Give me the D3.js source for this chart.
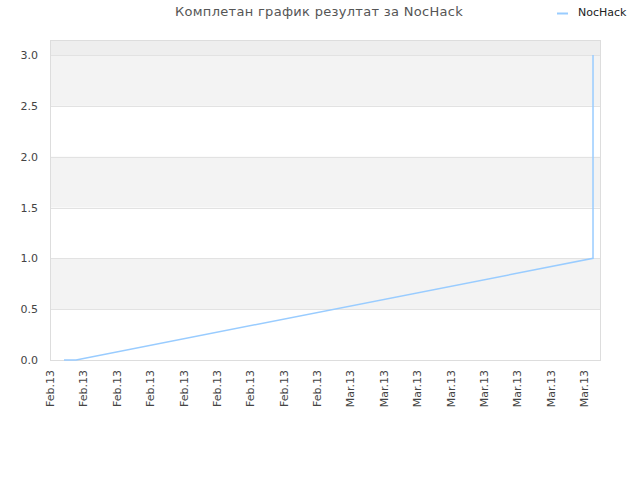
<!DOCTYPE html>
<html>
<head>
<meta charset="utf-8">
<script src="https://cdn.jsdelivr.net/npm/d3@7"></script>
<style>
  body { margin: 0; background: #fff; }
  text { font-family: "DejaVu Sans", sans-serif; }
</style>
</head>
<body>
<div id="chart"></div>
<script>
// x positions are in tick units (0 = first label)
const tickLabels = ['Feb.13', 'Feb.13', 'Feb.13', 'Feb.13', 'Feb.13', 'Feb.13', 'Feb.13', 'Feb.13', 'Feb.13',
  'Mar.13', 'Mar.13', 'Mar.13', 'Mar.13', 'Mar.13', 'Mar.13', 'Mar.13', 'Mar.13'];
const seriesX = [0.42, 0.78, 16.27, 16.27];
const seriesY = [0, 0, 1.0, 3.0];
const yTicks = [0, 0.5, 1, 1.5, 2, 2.5, 3];
const seriesName = 'NocHack';
const title = 'Комплетан график резултат за NocHack';

const w = 640;
const h = 480;
const plotLeft = 50, plotRight = 600, plotTop = 40, plotBottom = 360;

const svg = d3.select('#chart')
  .append('svg')
  .attr('width', w)
  .attr('height', h);

const x = d3.scaleLinear()
  .domain([0, 16])
  .range([plotLeft, 584]);

const y = d3.scaleLinear()
  .domain([0, 3])
  .range([plotBottom, 55]);

// alternating bands
svg.append('rect')
  .attr('x', plotLeft).attr('y', plotTop)
  .attr('width', plotRight - plotLeft).attr('height', y(3) - plotTop)
  .attr('fill', '#eeeeee');

[[0.5, 1], [1.5, 2], [2.5, 3]].forEach(b => {
  svg.append('rect')
    .attr('x', plotLeft).attr('y', y(b[1]))
    .attr('width', plotRight - plotLeft).attr('height', y(b[0]) - y(b[1]))
    .attr('fill', '#f3f3f3');
});

// grid lines
svg.selectAll('.grid')
  .data(yTicks)
  .enter()
  .append('line')
  .attr('x1', plotLeft).attr('x2', plotRight)
  .attr('y1', d => Math.round(y(d)) + 0.5).attr('y2', d => Math.round(y(d)) + 0.5)
  .attr('stroke', '#e2e2e2');

// frame
svg.append('rect')
  .attr('x', plotLeft + 0.5).attr('y', plotTop + 0.5)
  .attr('width', plotRight - plotLeft).attr('height', plotBottom - plotTop)
  .attr('fill', 'none')
  .attr('stroke', '#dddddd');

// y labels
svg.selectAll('.ylab')
  .data(yTicks)
  .enter()
  .append('text')
  .text(d => d.toFixed(1))
  .attr('x', 38)
  .attr('y', d => y(d) + 4)
  .attr('text-anchor', 'end')
  .attr('font-size', '11px')
  .attr('fill', '#444');

// x labels, rotated
svg.selectAll('.xlab')
  .data(tickLabels)
  .enter()
  .append('text')
  .text(d => d)
  .attr('text-anchor', 'end')
  .attr('font-size', '11px')
  .attr('fill', '#444')
  .attr('transform', (d, i) => `translate(${x(i) + 4},370) rotate(-90)`);

// series line
const pts = seriesX.map((v, i) => [v, seriesY[i]]);
svg.append('path')
  .datum(pts)
  .attr('fill', 'none')
  .attr('stroke', '#99ccff')
  .attr('stroke-width', 1.5)
  .attr('d', d3.line().x(d => x(d[0])).y(d => y(d[1])));

// title
svg.append('text')
  .text(title)
  .attr('x', 319)
  .attr('y', 16)
  .attr('text-anchor', 'middle')
  .attr('font-size', '13px')
  .attr('letter-spacing', '0.3px')
  .attr('fill', '#555');

// legend
svg.append('line')
  .attr('x1', 557).attr('x2', 568)
  .attr('y1', 13.5).attr('y2', 13.5)
  .attr('stroke', '#99ccff')
  .attr('stroke-width', 2);

svg.append('text')
  .text(seriesName)
  .attr('x', 578)
  .attr('y', 16)
  .attr('font-size', '11px')
  .attr('fill', '#222');
</script>
</body>
</html>
